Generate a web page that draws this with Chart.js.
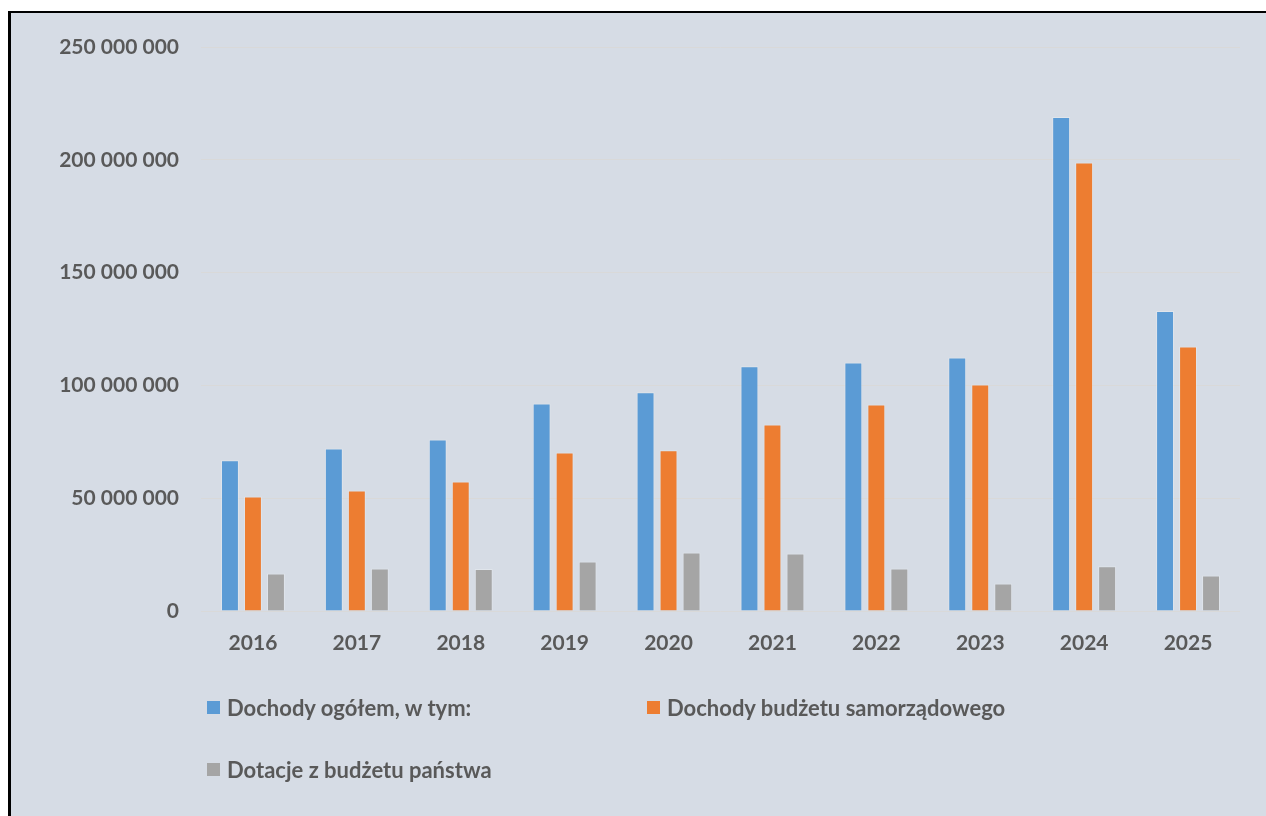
<!DOCTYPE html>
<html>
<head>
<meta charset="utf-8">
<script src="https://cdn.jsdelivr.net/npm/chart.js@4"></script>
<style>
  html, body { margin: 0; padding: 0; background: #fff; width: 1266px; height: 816px; overflow: hidden; }
  #frame {
    position: absolute; left: 8px; top: 11px; width: 1300px; height: 850px;
    background: #d6dce5; border-left: 3px solid #000; border-top: 2px solid #000;
  }
  #wrap { position: absolute; left: 0; top: 0; width: 1266px; height: 680px; }
  #legend { position: absolute; left: 0; top: 0; width: 1266px; height: 816px; pointer-events: none; }
  .item {
    position: absolute; display: flex; align-items: center;
    font-family: Lato, "Open Sans", sans-serif; font-weight: bold; font-size: 22px; color: #595959;
    white-space: nowrap;
  }
  .box { width: 13px; height: 13px; margin-right: 7px; }
</style>
</head>
<body>
<div id="frame"></div>
<div id="wrap"><canvas id="chart" width="1266" height="680"></canvas></div>
<div id="legend"></div>
<script>
// ── data ─────────────────────────────────────────────────────────────────────
const years = ["2016", "2017", "2018", "2019", "2020", "2021", "2022", "2023", "2024", "2025"];
const dochodyOgolem = [66800000, 72000000, 76000000, 92000000, 97000000, 108500000, 110200000, 112400000, 219000000, 133000000];
const dochodySamorzadu = [50700000, 53400000, 57400000, 70300000, 71200000, 82700000, 91500000, 100400000, 198800000, 117200000];
const dotacjePanstwa = [16600000, 18800000, 18600000, 21900000, 25900000, 25500000, 18800000, 12200000, 19800000, 15700000];
const seriesLabels = ["Dochody ogółem, w tym:", "Dochody budżetu samorządowego", "Dotacje z budżetu państwa"];

const COLORS = ["#5b9bd5", "#ed7d31", "#a5a5a5"];
const TEXT = "#595959";
const FONT = "Lato, 'Open Sans', sans-serif";

const fmt = v => String(v).replace(/\B(?=(\d{3})+(?!\d))/g, " ");

const ds = [dochodyOgolem, dochodySamorzadu, dotacjePanstwa].map((data, i) => ({
    label: seriesLabels[i],
    data,
    backgroundColor: COLORS[i],
    borderColor: "rgba(255,255,255,0.25)",
    borderWidth: 1,
    categoryPercentage: 0.664,
    barPercentage: 0.78,
}));

const chart = new Chart(document.getElementById("chart").getContext("2d"), {
    type: "bar",
    data: { labels: years, datasets: ds },
    options: {
        responsive: false,
        animation: false,
        layout: { padding: { top: 47, right: 26, left: 0, bottom: 0 } },
        plugins: { legend: { display: false }, tooltip: { enabled: false } },
        scales: {
            y: {
                min: 0,
                max: 250000000,
                ticks: {
                    stepSize: 50000000,
                    color: TEXT,
                    padding: 22,
                    font: { family: FONT, size: 21, weight: "bold" },
                    callback: v => fmt(v),
                },
                grid: { color: "#d9d9d9", lineWidth: 1, drawTicks: false },
                border: { display: false },
                afterFit: s => { s.width = 201; },
            },
            x: {
                ticks: {
                    color: TEXT,
                    padding: 12,
                    font: { family: FONT, size: 21, weight: "bold" },
                },
                grid: { display: false },
                border: { display: false },
                afterFit: s => { s.height = 69; },
            },
        },
    },
});

// ── legend (two columns, like the original) ─────────────────────────────────
const legendPos = [[207, 708], [647, 708], [207, 770]];
const legend = document.getElementById("legend");
chart.data.datasets.forEach((d, i) => {
    const el = document.createElement("div");
    el.className = "item";
    el.style.left = legendPos[i][0] + "px";
    el.style.top = (legendPos[i][1] - 14) + "px";
    el.innerHTML = `<span class="box" style="background:${d.backgroundColor}"></span><span>${d.label}</span>`;
    legend.appendChild(el);
});
</script>
</body>
</html>
